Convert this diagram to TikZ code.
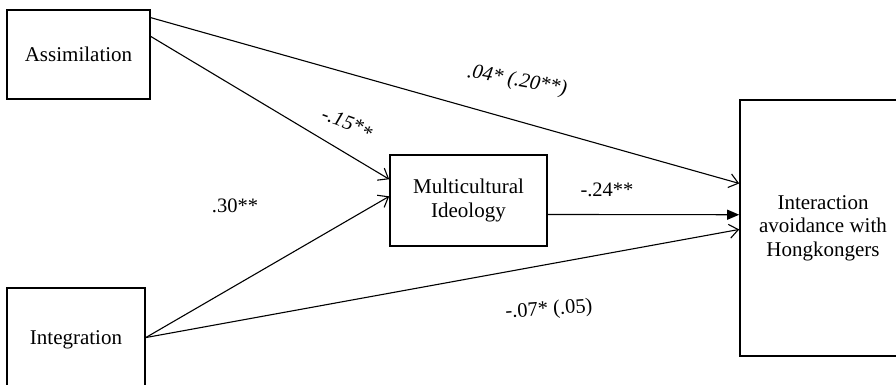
\documentclass[tikz,border=0pt]{standalone}
\usepackage{fontspec}
\setmainfont{Liberation Serif}
\usetikzlibrary{arrows.meta}

\begin{document}
\begin{tikzpicture}[x=1pt,y=-1pt,
    varbox/.style={rectangle,draw,line width=1.6pt,inner sep=0pt,align=center,font=\fontsize{21}{23.5}\selectfont},
    link/.style={line width=1.1pt,-{Straight Barb[length=9pt,width=14pt,line width=1.1pt]}},
    fillink/.style={line width=1.1pt,-{Triangle[length=12pt,width=10pt]}},
    coef/.style={font=\fontsize{20.5}{23}\selectfont,inner sep=0pt}]
    % Riquadro visibile
    \clip (0,0) rectangle (896,385);

    % Variabili
    \node[varbox,minimum width=143pt,minimum height=89pt] (assim) at (78.5,54.5) {Assimilation};
    \node[varbox,minimum width=138pt,minimum height=104pt] (integ) at (76,340) {Integration};
    \node[varbox,minimum width=157pt,minimum height=91pt] (multi) at (468.5,200.5) {Multicultural\\Ideology};
    \node[varbox,minimum width=166pt,minimum height=256pt] (inter) at (823,228) {Interaction\\avoidance with\\Hongkongers};

    % Percorsi
    \draw[link] (assim.27) -- (inter.152.6);
    \draw[link] (assim.14) -- (multi.165);
    \draw[link] (integ.2) -- (multi.177);
    \draw[link] (integ.2) -- (inter.181);
    \draw[fillink] (multi.-10.5) -- (inter.171);

    % Coefficienti
    \node[coef,font=\fontsize{20.5}{23}\selectfont\itshape,rotate=-10] (cdirect) at (517,81) {.04* (.20**)};
    \node[coef,font=\fontsize{20.5}{23}\selectfont\itshape,rotate=-20] (cassim) at (347,124) {-.15*\raisebox{-4pt}{*}};
    \node[coef] (cinteg) at (235,206) {.30**};
    \node[coef] (cmulti) at (607,190) {-.24**};
    \node[coef,rotate=4] (cintdir) at (549,310) {-.07* (.05)};
\end{tikzpicture}
\end{document}
